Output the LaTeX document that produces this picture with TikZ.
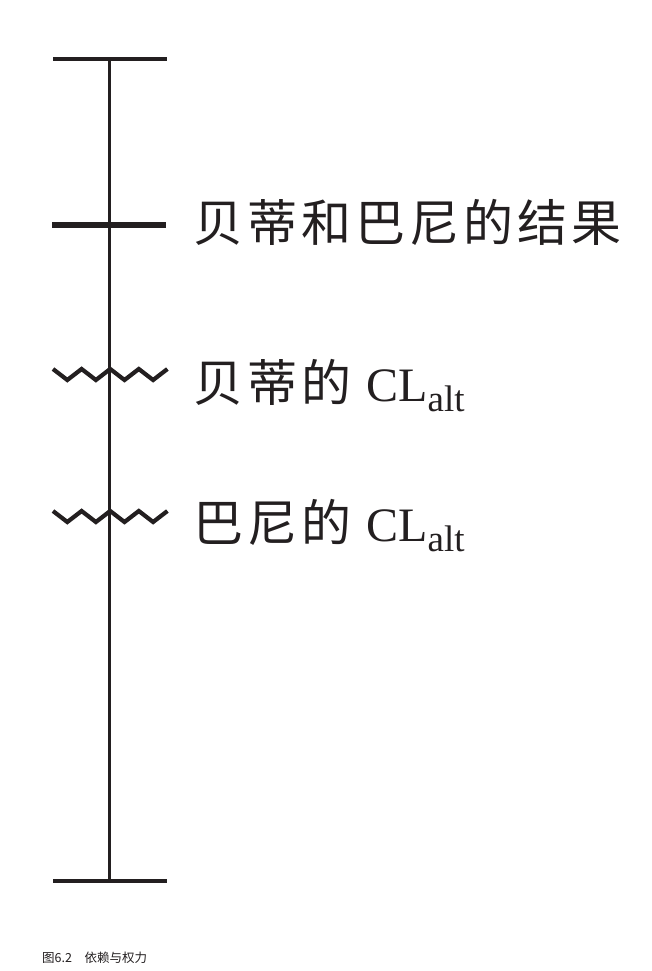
\documentclass[tikz,border=0pt]{standalone}
\usepackage{fontspec}
\setmainfont{Liberation Serif}
\newfontfamily\cjk[LetterSpace=8]{Noto Sans CJK SC}
\newfontfamily\capfont{Noto Sans CJK SC}
\definecolor{ink}{HTML}{231F20}
\newcommand{\clalt}{CL{\fontsize{37}{37}\selectfont\raisebox{-10pt}{alt}}}

\begin{document}
\begin{tikzpicture}
  [x=1pt,y=-1pt,every node/.style={inner sep=0pt,text=ink}]
  \tikzstyle{axis} = [draw=ink,line width=3pt]
  \tikzstyle{tick} = [draw=ink,line width=3.4pt]
  \tikzstyle{mark bar} = [draw=ink,line width=6.6pt]
  \tikzstyle{wave} = [draw=ink,line width=4.2pt]
  \tikzstyle{label} = [anchor=base west,font=\fontsize{50}{50}\selectfont]
  \useasboundingbox (0,0) rectangle (652,971);

  \coordinate (top) at (109,59);
  \coordinate (bot) at (109,881);
  \coordinate (tl) at (53,59);
  \coordinate (tr) at (167,59);
  \coordinate (bl) at (53,881);
  \coordinate (br) at (167,881);
  \coordinate (ml) at (52,225);
  \coordinate (mr) at (166,225);
  \coordinate (w1) at (53,369);
  \coordinate (w2) at (53,511);

  \draw[axis] (top) -- (bot);
  \draw[tick] (tl) -- (tr);
  \draw[tick] (bl) -- (br);
  \draw[mark bar] (ml) -- (mr);
\foreach \w in {w1,w2}
  \draw[wave] (\w) \foreach \k in {1,...,4} { -- ++(14.3,11) -- ++(14.3,-11) };

  \node[label] (result) at (193,241) {\cjk 贝蒂和巴尼的结果};
  \node[label] (betty) at (193,401) {\cjk 贝蒂的 \fontsize{48}{48}\selectfont\rmfamily\clalt};
  \node[label] (barney) at (193,541) {\cjk 巴尼的 \fontsize{48}{48}\selectfont\rmfamily\clalt};

  \node[anchor=base west,font=\capfont\fontsize{12.5}{12.5}\selectfont] (caption) at (42,962) {图6.2\quad 依赖与权力};

\end{tikzpicture}
\end{document}
